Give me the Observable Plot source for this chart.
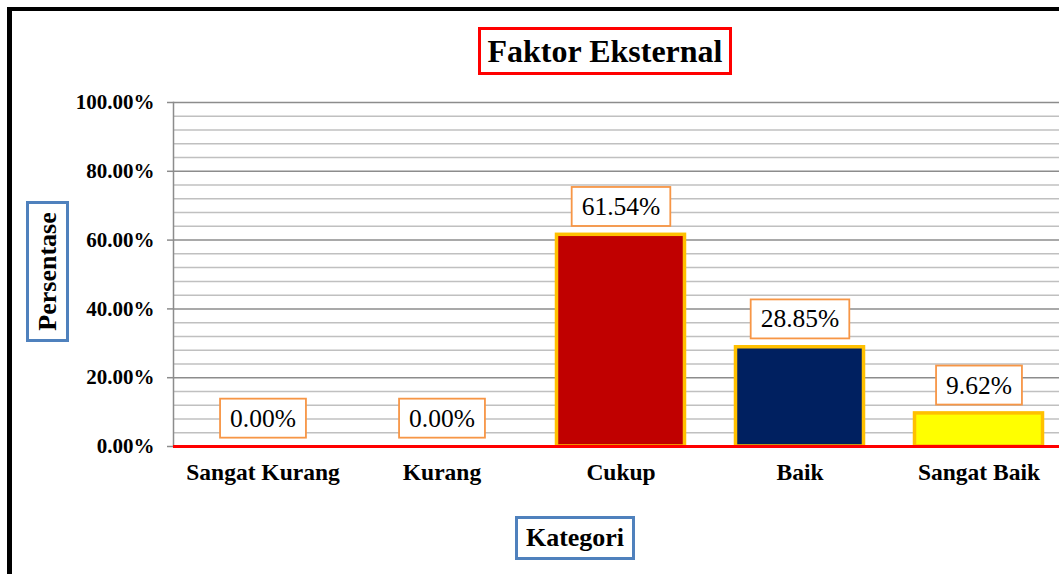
<!DOCTYPE html>
<html>
<head>
<meta charset="utf-8">
<script src="https://cdn.jsdelivr.net/npm/d3@7"></script>
<script src="https://cdn.jsdelivr.net/npm/@observablehq/plot@0.6"></script>
<style>
  html, body { margin: 0; padding: 0; background: #fff; overflow: hidden; }
  #wrap { position: relative; width: 1059px; height: 574px; background: #fff; font-family: "Liberation Serif", "Times New Roman", Times, "DejaVu Serif", "Noto Serif", serif; }
  #chart { position: absolute; left: 0; top: 0; }
  #chart svg, #chart svg text { font-family: "Liberation Serif", "Times New Roman", Times, "DejaVu Serif", "Noto Serif", serif !important; }
  .border { position: absolute; left: 7px; top: 7px; width: 1100px; height: 600px; border-left: 5px solid #000; border-top: 4px solid #000; box-sizing: border-box; pointer-events: none; }
  .box { position: absolute; box-sizing: border-box; background: #fff; font-weight: bold; color: #000; display: flex; align-items: center; justify-content: center; white-space: nowrap; }
  #title { left: 478px; top: 27px; width: 254px; height: 48px; border: 3px solid #FF0000; font-size: 32px; }
  #ylab { left: -23px; top: 250px; width: 141px; height: 43px; border: 3px solid #4F81BD; font-size: 26px; transform: rotate(-90deg); }
  #xlab { left: 515px; top: 516px; width: 120px; height: 44px; border: 3px solid #4F81BD; font-size: 26px; }
</style>
</head>
<body>
<div id="wrap">
  <div id="chart"></div>
  <div class="border"></div>
  <div class="box" id="title">Faktor Eksternal</div>
  <div class="box" id="ylab">Persentase</div>
  <div class="box" id="xlab">Kategori</div>
</div>
<script>
const categories = ["Sangat Kurang", "Kurang", "Cukup", "Baik", "Sangat Baik"];
const values = [0.00, 0.00, 61.54, 28.85, 9.62];
const barColors = ["#C00000", "#C00000", "#C00000", "#002060", "#FFFF00"];
const majorTicks = [0, 20, 40, 60, 80, 100];
const minorTicks = d3.range(4, 100, 4).filter(v => v % 20 !== 0);

const data = categories.map((c, i) => ({cat: c, val: values[i], color: barColors[i]}));
const serif = "'Liberation Serif', 'Times New Roman', Times, 'DejaVu Serif', serif";

const plot = Plot.plot({
  width: 1059,
  height: 574,
  marginLeft: 173,
  marginTop: 102,
  marginBottom: 128,
  marginRight: 0,
  style: {background: "transparent", fontFamily: serif, color: "#000", overflow: "visible"},
  x: {domain: categories, range: [173, 1068], paddingInner: 0.27, paddingOuter: 0.135, axis: null},
  y: {domain: [0, 100], range: [446, 102], axis: null},
  color: {type: "identity"},
  marks: [
    Plot.ruleY(minorTicks, {stroke: "#C0C0C0", strokeWidth: 1.5}),
    Plot.ruleY(majorTicks.filter(v => v > 0), {stroke: "#8C8C8C", strokeWidth: 1.5}),
    Plot.axisY({
      ticks: majorTicks,
      tickFormat: d => d.toFixed(2) + "%",
      tickSize: 6,
      tickPadding: 13,
      fontSize: 21,
      fontWeight: "bold",
      stroke: "#8C8C8C",
      strokeWidth: 1.5,
      label: null
    }),
    Plot.frame({anchor: "left", stroke: "#8C8C8C", strokeWidth: 1.5}),
    Plot.axisX({
      tickSize: 0,
      tickPadding: 17,
      fontSize: 23.5,
      fontWeight: "bold",
      label: null
    }),
    Plot.barY(data.filter(d => d.val > 0), {x: "cat", y: "val", fill: "color", stroke: "#FFC000", strokeWidth: 3.5, insetLeft: 1.5, insetRight: 1.5}),
    Plot.ruleY([0], {stroke: "#FF0000", strokeWidth: 3}),
    Plot.text(data, {x: "cat", y: "val", text: d => d.val.toFixed(2) + "%", dy: -28, fontSize: 25.5, fontFamily: serif, fill: "#000"})
  ]
});

document.getElementById("chart").appendChild(plot);

// Boxes around the value labels
const labelSet = new Set(values.map(v => v.toFixed(2) + "%"));
d3.select(plot).selectAll("g[aria-label='text'] text")
  .filter(function() { return labelSet.has(this.textContent); })
  .each(function() {
    const bb = this.getBBox();
    const t = this.getAttribute("transform");
    const r = document.createElementNS("http://www.w3.org/2000/svg", "rect");
    if (t) r.setAttribute("transform", t);
    r.setAttribute("x", bb.x - 10);
    r.setAttribute("y", bb.y - 5);
    r.setAttribute("width", bb.width + 20);
    r.setAttribute("height", bb.height + 10);
    r.setAttribute("fill", "#fff");
    r.setAttribute("stroke", "#F79646");
    r.setAttribute("stroke-width", 1.8);
    this.parentNode.insertBefore(r, this);
  });
</script>
</body>
</html>
